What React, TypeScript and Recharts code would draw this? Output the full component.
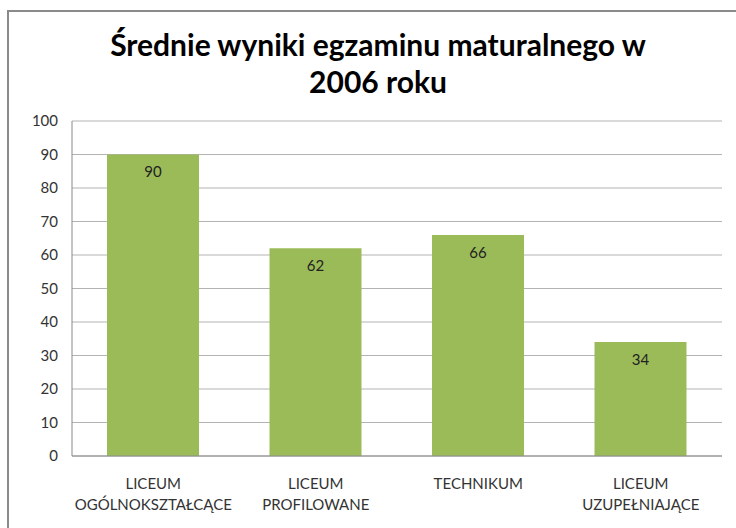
import { BarChart, Bar, XAxis, YAxis, CartesianGrid, LabelList } from "recharts";

const categories = [
  "LICEUM\nOGÓLNOKSZTAŁCĄCE",
  "LICEUM\nPROFILOWANE",
  "TECHNIKUM",
  "LICEUM\nUZUPEŁNIAJĄCE",
];
const scores = [90, 62, 66, 34];
const yTicks = [0, 10, 20, 30, 40, 50, 60, 70, 80, 90, 100];

const data = categories.map((name, i) => ({ name, value: scores[i] }));

const FONT = "Lato, 'Open Sans', sans-serif";

function CategoryTick({ x, y, payload }: any) {
  const lines = String(payload.value).split("\n");
  return (
    <text x={x} y={y} textAnchor="middle" fill="#333" fontSize={15} fontFamily={FONT}>
      {lines.map((l, i) => (
        <tspan key={i} x={x} dy={i === 0 ? 25 : 21}>
          {l}
        </tspan>
      ))}
    </text>
  );
}

export default function App() {
  return (
    <div
      style={{
        position: "fixed",
        left: 0,
        top: 0,
        width: 736,
        height: 528,
        overflow: "hidden",
        background: "#fff",
      }}
    >
      <div
        style={{
          position: "absolute",
          left: 7,
          top: 10,
          width: 800,
          height: 600,
          border: "2px solid #8a8a8a",
        }}
      />
      <div
        style={{
          position: "absolute",
          left: 0,
          top: 26,
          width: 756,
          textAlign: "center",
          fontFamily: FONT,
          fontWeight: 700,
          fontSize: 30,
          lineHeight: "37px",
          color: "#000",
        }}
      >
        Średnie wyniki egzaminu maturalnego w
        <br />
        2006 roku
      </div>
      <div style={{ position: "absolute", left: 0, top: 0 }}>
        <BarChart
          width={736}
          height={528}
          data={data}
          margin={{ top: 121, right: 14, bottom: 12, left: 0 }}
          barCategoryGap={70}
        >
          <CartesianGrid vertical={false} stroke="#b3b3b3" strokeWidth={1} />
          <XAxis
            dataKey="name"
            height={60}
            axisLine={{ stroke: "#8a8a8a" }}
            tickLine={false}
            tick={<CategoryTick />}
            interval={0}
          />
          <YAxis
            width={72}
            domain={[0, 100]}
            ticks={yTicks}
            interval={0}
            axisLine={{ stroke: "#8a8a8a" }}
            tickLine={false}
            tickSize={0}
            tickMargin={14}
            tick={{ fill: "#333", fontSize: 15, fontFamily: FONT }}
          />
          <Bar dataKey="value" fill="#9BBB59" barSize={92} isAnimationActive={false}>
            <LabelList
              dataKey="value"
              position="insideTop"
              offset={12}
              fill="#222"
              fontSize={15}
              fontFamily={FONT}
            />
          </Bar>
        </BarChart>
      </div>
    </div>
  );
}
